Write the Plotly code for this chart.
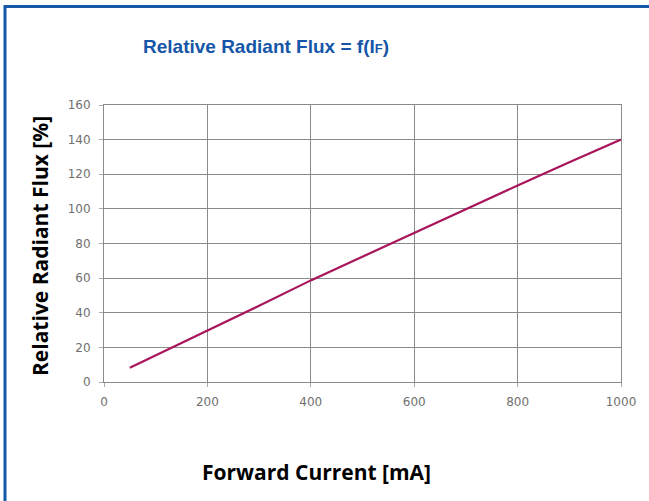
import plotly.graph_objects as go

# Data
forward_current_mA = [50, 100, 200, 300, 400, 500, 600, 700, 800, 900, 1000]
relative_flux_pct = [8.2, 15.3, 29.6, 44.0, 58.7, 72.5, 86.0, 99.8, 113.5, 127.0, 140.0]

x_ticks = [0, 200, 400, 600, 800, 1000]
y_ticks = [0, 20, 40, 60, 80, 100, 120, 140, 160]

title_text = "Relative Radiant Flux = f(I<span style='font-size:13px'>F</span>)"
x_title = "Forward Current [mA]"
y_title = "Relative Radiant Flux [%]"

W, H = 649, 501
ml, mr, mt, mb = 104, 28, 105, 119
pw, ph = W - ml - mr, H - mt - mb

def px_x(p):
    return (p - ml) / pw

def px_y(p):
    return (H - mb - p) / ph

fig = go.Figure()
fig.add_trace(go.Scatter(
    x=forward_current_mA, y=relative_flux_pct, mode="lines",
    line=dict(color="#a8155a", width=2.2), showlegend=False, hoverinfo="skip"))

grid_col = "#8a8a8a"
tick_font = dict(family="DejaVu Sans", size=12, color="#707070")

fig.update_xaxes(
    range=[0, 1000], tickvals=x_ticks, ticktext=[str(v) for v in x_ticks],
    showgrid=True, gridcolor=grid_col, gridwidth=1,
    showline=True, linecolor=grid_col, linewidth=1, mirror=True,
    ticks="outside", ticklen=4, tickcolor="#aaaaaa",
    tickfont=tick_font, ticklabelstandoff=5, zeroline=False)
fig.update_yaxes(
    range=[0, 160], tickvals=y_ticks, ticktext=[str(v) for v in y_ticks],
    showgrid=True, gridcolor=grid_col, gridwidth=1,
    showline=True, linecolor=grid_col, linewidth=1, mirror=True,
    ticks="outside", ticklen=4, tickcolor="#aaaaaa",
    tickfont=tick_font, ticklabelstandoff=6, zeroline=False)

annotations = [
    dict(text="<b>" + title_text + "</b>", x=px_x(266), y=px_y(46),
         xref="paper", yref="paper", showarrow=False,
         font=dict(family="Liberation Sans", size=19, color="#1656a8"),
         xanchor="center", yanchor="middle"),
    dict(text="<b>" + x_title + "</b>", x=px_x(316), y=px_y(472),
         xref="paper", yref="paper", showarrow=False,
         font=dict(family="Open Sans", size=21, color="#000000"),
         xanchor="center", yanchor="middle"),
    dict(text="<b>" + y_title + "</b>", x=px_x(40), y=px_y(246),
         xref="paper", yref="paper", showarrow=False, textangle=-90,
         font=dict(family="Open Sans", size=21, color="#000000"),
         xanchor="center", yanchor="middle"),
]

shapes = [
    dict(type="rect", xref="paper", yref="paper",
         x0=px_x(5), y0=px_y(H + 20), x1=px_x(W + 20), y1=px_y(6.5),
         line=dict(color="#1458a8", width=3), fillcolor="rgba(0,0,0,0)",
         layer="above"),
]

fig.update_layout(
    width=W, height=H, autosize=False,
    margin=dict(l=ml, r=mr, t=mt, b=mb),
    paper_bgcolor="white", plot_bgcolor="white",
    annotations=annotations, shapes=shapes)

fig.write_html("out.html", config={"displayModeBar": False},
               post_script="document.body.style.margin='0';document.body.style.padding='0';")
